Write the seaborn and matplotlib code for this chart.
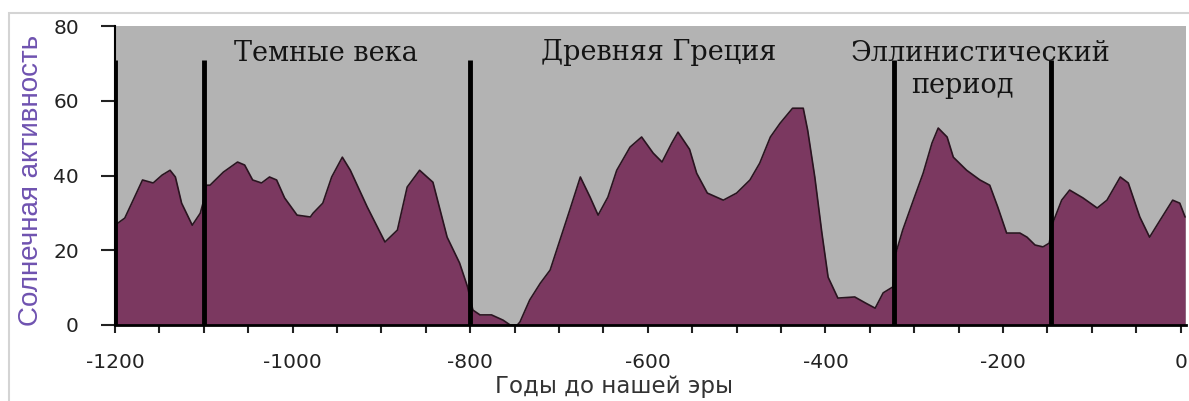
import numpy as np
import pandas as pd
import matplotlib
matplotlib.use("Agg")
import matplotlib.pyplot as plt
from matplotlib.patches import Rectangle
import seaborn as sns

# ---- data ----
years = [-1200, -1189, -1178, -1169, -1157, -1147, -1138, -1132, -1125, -1113, -1104, -1101,
         -1097, -1093, -1078, -1062, -1054, -1045, -1035, -1026, -1018, -1009, -995, -980,
         -977, -966, -956, -944, -935, -916, -896, -882, -871, -857, -842, -826, -812, -803,
         -797, -789, -776, -763, -755, -747, -744, -733, -721, -710, -699, -688, -676, -665,
         -656, -645, -635, -620, -607, -594, -584, -573, -566, -553, -545, -533, -515, -500,
         -485, -474, -462, -451, -437, -425, -420, -412, -404, -397, -386, -367, -355, -344,
         -335, -324, -322, -313, -301, -290, -280, -273, -263, -256, -241, -226, -215, -206,
         -196, -181, -173, -164, -155, -148, -144, -134, -125, -110, -94, -83, -68, -59, -46,
         -35, -23, -9, -1, 5]
activity = [26.7, 28.6, 34.2, 38.8, 38.0, 40.1, 41.4, 39.6, 32.6, 26.7, 29.9, 32.5,
            37.4, 37.4, 40.9, 43.6, 42.8, 38.8, 38.0, 39.6, 38.8, 34.0, 29.4, 28.9,
            29.9, 32.6, 39.6, 44.9, 41.4, 31.6, 22.2, 25.4, 36.9, 41.4, 38.2, 23.5, 16.6, 10.2,
            4.0, 2.7, 2.7, 1.3, 0.0, 0.0, 0.8, 6.7, 11.2, 14.7, 22.7, 30.7, 39.6, 34.2,
            29.4, 34.2, 41.4, 47.6, 50.3, 46.0, 43.6, 48.7, 51.6, 47.0, 40.6, 35.3, 33.4, 35.3,
            38.8, 43.3, 50.3, 54.0, 58.0, 58.0, 52.1, 39.6, 24.6, 12.8, 7.2, 7.5, 5.9, 4.5,
            8.6, 10.2, 18.2, 25.4, 33.4, 40.6, 48.7, 52.7, 50.3, 44.9, 41.4, 38.8, 37.4, 31.6,
            24.6, 24.6, 23.5, 21.4, 20.9, 21.9, 27.3, 33.4, 36.1, 34.0, 31.3, 33.4, 39.6, 38.0, 28.9,
            23.5, 28.1, 33.4, 32.6, 28.9]
period_bounds = [-1200, -1100, -800, -323, -146]
period_line_top = 71
period_names = ["Темные века", "Древняя Греция", "Эллинистический", "период"]
period_name_x = [-962, -588, -226, -246]
period_name_y = [72.7, 72.9, 72.7, 64.2]
xtick_values = [-1200, -1000, -800, -600, -400, -200, 0]
xtick_labels = ["-1200", "-1000", "-800", "-600", "-400", "-200", "0"]
ytick_values = [0, 20, 40, 60, 80]
ytick_labels = ["0", "20", "40", "60", "80"]
x_label = "Годы до нашей эры"
y_label = "Солнечная активность"

df = pd.DataFrame({"year": years, "activity": activity})

# ---- style ----
sns.set_style("white")
plt.rcParams["font.family"] = ["DejaVu Sans"]
plt.rcParams["axes.unicode_minus"] = False

W, H = 1189, 401
fig = plt.figure(figsize=(W / 100, H / 100), dpi=100)
ax = fig.add_axes([115 / W, 1 - 325 / H, (1186 - 115) / W, (325 - 26) / H])

gray = "#b3b3b3"
purple = "#7b3860"
ax.set_facecolor(gray)

ax.fill_between(df["year"], 0, df["activity"], color=purple, lw=0, zorder=2)
sns.lineplot(data=df, x="year", y="activity", color="#2a1420", lw=1.2, ax=ax, zorder=3)

ax.vlines(period_bounds, 0, period_line_top, colors="black", lw=3.5, zorder=4)

for name, xx, yy in zip(period_names, period_name_x, period_name_y):
    ax.text(xx, yy, name, ha="center", va="center", fontsize=19.5,
            family="DejaVu Serif", color="#141414", zorder=5)

ax.set_xlim(-1200, 6)
ax.set_ylim(0, 80)

ax.set_xticks(xtick_values)
ax.set_xticklabels(xtick_labels)
ax.set_xticks(np.arange(-1150, 1, 50), minor=True)
ax.set_yticks(ytick_values)
ax.set_yticklabels(ytick_labels)

ax.tick_params(axis="x", which="both", direction="out", length=6, width=1.5,
               color="#222222", bottom=True, pad=14, labelsize=14.5, labelcolor="#222222")
ax.tick_params(axis="y", which="major", direction="out", length=10, width=1.5,
               color="#222222", left=True, pad=16, labelsize=14.5, labelcolor="#222222")

for s in ["top", "right"]:
    ax.spines[s].set_visible(False)
ax.spines["left"].set_color("black")
ax.spines["left"].set_linewidth(1.5)
ax.spines["bottom"].set_color("black")
ax.spines["bottom"].set_linewidth(2)
ax.spines["bottom"].set_zorder(6)

ax.set_xlabel(x_label, fontsize=16.5, color="#333333", va="top")
ax.xaxis.set_label_coords((614 - 115) / 1071, (325 - 375) / 299)
ax.set_ylabel(y_label, fontsize=20, color="#6f52b0", family="Liberation Sans")
ax.yaxis.set_label_coords((44 - 115) / 1071, (325 - 180) / 299)

fig.patches.append(Rectangle((9 / W, -0.2), 1.2, 1.2 - 13 / H, transform=fig.transFigure,
                             fill=False, edgecolor="#d4d4d4", lw=1.5, zorder=0))

fig.savefig("out.png", dpi=100)
